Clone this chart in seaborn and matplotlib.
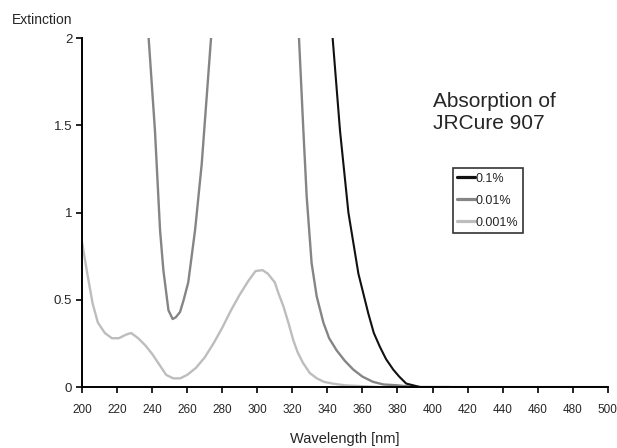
import numpy as np
import matplotlib
matplotlib.use("Agg")
import matplotlib.pyplot as plt
import seaborn as sns
from matplotlib.lines import Line2D

# 0.001 % solution
wl_001 = [200, 203, 206, 209, 213, 217, 221, 225, 228, 232, 236, 240, 244, 248,
          252, 256, 260, 265, 270, 275, 280, 285, 290, 295, 299, 303, 306, 310,
          312, 315, 318, 320.5, 323, 326, 330, 334, 338, 343, 350, 360, 370, 380,
          400, 450, 500]
ext_001 = [0.83, 0.65, 0.48, 0.37, 0.31, 0.28, 0.28, 0.30, 0.31, 0.28, 0.24, 0.19, 0.13, 0.07,
           0.05, 0.05, 0.07, 0.11, 0.17, 0.25, 0.34, 0.44, 0.53, 0.61, 0.665, 0.67, 0.65, 0.60,
           0.54, 0.46, 0.36, 0.27, 0.20, 0.14, 0.08, 0.05, 0.03, 0.02, 0.01, 0.005, 0.0, 0.0,
           0.0, 0.0, 0.0]

# 0.01 % solution (two visible parts, above 2 is off scale)
wl_01a = [238, 241.6, 244.5, 246.4, 249.3, 251.7, 253.5, 255.9, 258, 260.6, 264.5,
          268.3, 271.1, 273.6]
ext_01a = [2.0, 1.47, 0.90, 0.67, 0.44, 0.39, 0.40, 0.43, 0.50, 0.60, 0.90,
           1.28, 1.66, 2.0]
wl_01b = [323.8, 326.3, 328.2, 331, 333.9, 337.7, 341, 345.3, 350, 354.8, 360, 366,
          372, 380, 390, 400, 410]
ext_01b = [2.0, 1.47, 1.09, 0.71, 0.52, 0.37, 0.28, 0.21, 0.15, 0.10, 0.06, 0.03,
           0.015, 0.01, 0.0, 0.0, 0.0]

# 0.1 % solution
wl_1 = [343, 347.2, 352, 357.7, 363.4, 366.5, 370, 373.5, 377.6, 381, 385, 389, 393, 400, 417]
ext_1 = [2.0, 1.47, 1.0, 0.65, 0.42, 0.31, 0.23, 0.16, 0.10, 0.06, 0.02, 0.01, 0.0, 0.0, 0.0]

labels = ["0.1%", "0.01%", "0.001%"]
colors = ["#111111", "#858585", "#bdbdbd"]

sns.set_style("white")
plt.rcParams["font.family"] = ["Liberation Sans", "DejaVu Sans"]

fig = plt.figure(figsize=(6.17, 4.48), dpi=100)
ax = fig.add_axes([0.133, 0.136, 0.852, 0.779])

sns.lineplot(x=wl_001, y=ext_001, color=colors[2], lw=1.7, ax=ax)
sns.lineplot(x=wl_01a, y=ext_01a, color=colors[1], lw=1.7, ax=ax)
sns.lineplot(x=wl_01b, y=ext_01b, color=colors[1], lw=1.7, ax=ax)
sns.lineplot(x=wl_1, y=ext_1, color=colors[0], lw=1.5, ax=ax)

ax.set_xlim(200, 500)
ax.set_ylim(0, 2)
ax.set_xticks(np.arange(200, 501, 20))
ax.set_yticks([0, 0.5, 1, 1.5, 2])
ax.set_yticklabels(["0", "0.5", "1", "1.5", "2"])
ax.tick_params(axis="both", direction="out", length=4, width=1.2, color="black",
               bottom=True, left=True)
ax.tick_params(axis="x", pad=8, labelsize=8.5)
ax.tick_params(axis="y", pad=3, labelsize=9.5)
for side in ["top", "right"]:
    ax.spines[side].set_visible(False)
for side in ["left", "bottom"]:
    ax.spines[side].set_color("black")
    ax.spines[side].set_linewidth(1.4)

ax.set_xlabel("Wavelength [nm]", fontsize=10.5, labelpad=12)
ax.set_ylabel("")
fig.text(0.019, 0.955, "Extinction", fontsize=10, ha="left", va="center")

fig.text(0.702, 0.749, "Absorption of\nJRCure 907", fontsize=15, ha="left", va="center",
         linespacing=1.2)

handles = [Line2D([0], [0], color=c, lw=2.3) for c in colors]
leg = ax.legend(handles, labels, loc="upper left", bbox_to_anchor=(0.705, 0.627),
                fontsize=9, frameon=True, fancybox=False, handlelength=1.4,
                handletextpad=0.1, borderpad=0.35, labelspacing=0.8, borderaxespad=0)
leg.get_frame().set_edgecolor("black")
leg.get_frame().set_linewidth(1.2)

fig.savefig("out.png", dpi=100)
